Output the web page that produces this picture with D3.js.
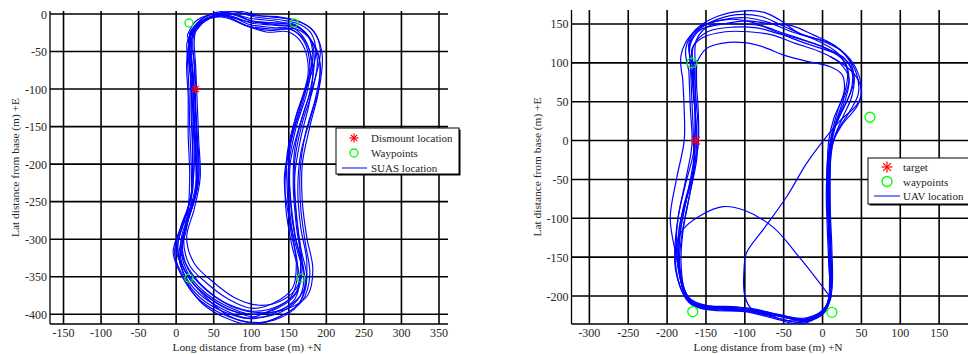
<!DOCTYPE html>
<html><head><meta charset="utf-8">
<script src="https://cdn.jsdelivr.net/npm/d3@7"></script>
<style>
html,body{margin:0;padding:0;background:#fff;}
svg text{font-family:"Liberation Serif","Times New Roman",serif;fill:#262626;}
</style></head>
<body><svg id="c" width="968" height="354"></svg>
<script>
// ---------- LEFT CHART DATA ----------
const leftXTicks = [-150,-100,-50,0,50,100,150,200,250,300,350];
const leftYTicks = [0,-50,-100,-150,-200,-250,-300,-350,-400];
const leftWaypoints = [[17,-12],[157,-12],[17,-352],[166,-352]];
const leftDismount = [[26,-100]];
const leftLegend = ["Dismount location","Waypoints","SUAS location"];
const leftLoops = [
 [[18,-25],[35,-6],[65,2],[100,-6],[135,-10],[160,-16],[178,-32],[188,-60],[182,-100],[168,-145],[158,-195],[158,-245],[163,-295],[168,-338],[160,-372],[135,-392],[100,-400],[65,-388],[35,-368],[14,-342],[6,-305],[16,-268],[26,-228],[25,-180],[23,-130],[22,-82],[18,-45],[18,-25]],
 [[22,-30],[38,-10],[68,-2],[100,-12],[130,-15],[155,-18],[172,-35],[180,-65],[174,-105],[160,-150],[150,-200],[150,-250],[156,-300],[162,-345],[152,-378],[125,-395],[95,-405],[60,-392],[30,-372],[10,-345],[2,-310],[12,-272],[22,-235],[22,-185],[20,-135],[19,-85],[16,-48],[22,-30]],
 [[16,-35],[30,-12],[60,-4],[100,-18],[125,-22],[160,-20],[182,-38],[192,-68],[186,-110],[172,-160],[165,-210],[166,-260],[172,-305],[178,-348],[168,-382],[140,-402],[105,-412],[70,-402],[42,-380],[18,-352],[0,-315],[8,-280],[24,-245],[28,-195],[26,-140],[25,-90],[22,-50],[16,-35]],
 [[24,-22],[45,-4],[75,3],[105,-4],[140,-8],[165,-14],[180,-26],[186,-52],[176,-92],[160,-135],[148,-185],[148,-235],[152,-285],[160,-330],[155,-365],[130,-385],[100,-392],[70,-380],[40,-358],[18,-335],[10,-300],[20,-262],[30,-222],[28,-172],[26,-122],[25,-75],[22,-40],[24,-22]],
 [[20,-28],[36,-8],[66,-1],[98,-14],[128,-18],[152,-20],[170,-36],[178,-70],[170,-112],[156,-158],[146,-208],[146,-258],[154,-308],[164,-350],[158,-380],[132,-398],[98,-406],[62,-396],[32,-378],[12,-352],[4,-318],[14,-280],[26,-240],[27,-190],[24,-140],[22,-95],[18,-55],[20,-28]],
 [[14,-40],[26,-15],[55,-2],[95,-10],[130,-12],[158,-14],[176,-30],[190,-58],[190,-100],[178,-150],[168,-200],[168,-250],[174,-298],[182,-340],[175,-375],[150,-392],[115,-398],[80,-392],[50,-375],[24,-350],[8,-320],[14,-285],[20,-250],[20,-200],[18,-150],[17,-100],[15,-60],[14,-40]],
 [[20,-24],[42,-6],[72,1],[102,-10],[132,-14],[162,-18],[179,-34],[184,-62],[178,-104],[164,-150],[152,-198],[152,-248],[158,-296],[170,-342],[165,-376],[142,-396],[108,-404],[72,-394],[40,-375],[16,-350],[2,-312],[10,-278],[20,-240],[22,-190],[21,-140],[20,-92],[17,-50],[20,-24]],
 [[26,-20],[48,-3],[80,4],[110,-2],[145,-6],[168,-12],[184,-24],[192,-48],[184,-90],[170,-130],[158,-180],[156,-230],[160,-282],[166,-328],[162,-362],[140,-382],[110,-388],[78,-378],[48,-356],[24,-332],[14,-298],[24,-260],[32,-218],[30,-168],[28,-118],[26,-70],[24,-38],[26,-20]],
 [[18,-32],[32,-12],[62,-3],[96,-16],[126,-20],[156,-22],[174,-40],[182,-72],[178,-115],[166,-165],[158,-215],[160,-265],[166,-312],[174,-352],[164,-385],[136,-404],[100,-414],[64,-404],[34,-385],[14,-358],[-2,-320],[6,-284],[18,-250],[24,-205],[23,-155],[21,-105],[18,-60],[18,-32]],
 [[22,-26],[40,-7],[70,0],[100,-9],[132,-12],[160,-16],[176,-30],[182,-58],[172,-98],[158,-142],[150,-192],[152,-242],[158,-292],[166,-336],[160,-370],[138,-388],[104,-396],[68,-386],[38,-366],[16,-340],[8,-306],[18,-268],[28,-230],[26,-182],[24,-132],[23,-84],[20,-46],[22,-26]],
 [[15,-28],[28,-8],[58,0],[90,-14],[120,-24],[150,-24],[168,-40],[176,-75],[166,-120],[152,-170],[144,-220],[150,-270],[162,-318],[172,-355],[162,-388],[130,-408],[95,-410],[58,-398],[28,-378],[8,-350],[-4,-318],[4,-290],[20,-262],[30,-215],[28,-160],[24,-105],[20,-60],[15,-28]],
 [[20,-22],[38,-4],[68,4],[104,-2],[138,-4],[164,-10],[182,-22],[194,-50],[192,-90],[180,-135],[166,-185],[162,-235],[166,-285],[174,-330],[170,-368],[148,-390],[112,-400],[76,-396],[46,-380],[20,-356],[6,-325],[10,-295],[16,-260],[18,-215],[16,-160],[16,-110],[14,-65],[20,-22]]
];

// ---------- RIGHT CHART DATA ----------
const rightXTicks = [-300,-250,-200,-150,-100,-50,0,50,100,150,200];
const rightYTicks = [150,100,50,0,-50,-100,-150,-200];
const rightWaypoints = [[-168,100],[61,30],[-167,-220],[12,-221]];
const rightTarget = [[-163,0]];
const rightLegend = ["target","waypoints","UAV location"];
const rightLoops = [
 [[-168,100],[-172,125],[-160,145],[-130,155],[-100,158],[-70,152],[-40,140],[-10,130],[20,112],[32,90],[28,60],[15,30],[8,0],[6,-50],[8,-100],[10,-150],[10,-195],[0,-220],[-25,-230],[-55,-224],[-100,-216],[-140,-214],[-168,-210],[-180,-190],[-185,-150],[-182,-110],[-172,-60],[-165,-20],[-163,20],[-166,60],[-168,100]],
 [[-165,95],[-168,118],[-155,132],[-125,140],[-95,140],[-65,136],[-35,125],[-5,115],[22,100],[34,80],[30,55],[18,25],[10,-5],[8,-55],[9,-105],[11,-155],[11,-198],[2,-222],[-22,-232],[-50,-226],[-95,-218],[-135,-216],[-165,-212],[-178,-194],[-184,-155],[-180,-115],[-170,-65],[-162,-25],[-160,15],[-163,55],[-165,95]],
 [[-172,90],[-176,118],[-164,142],[-135,160],[-100,167],[-75,165],[-55,155],[-30,138],[0,128],[25,115],[42,95],[50,65],[45,45],[25,20],[10,-10],[5,-60],[6,-110],[8,-160],[9,-200],[-2,-224],[-28,-234],[-60,-228],[-105,-218],[-145,-216],[-172,-208],[-184,-185],[-190,-145],[-186,-100],[-176,-50],[-168,-5],[-170,40],[-172,90]],
 [[-162,100],[-150,118],[-130,125],[-100,126],[-75,120],[-50,110],[-20,102],[10,95],[25,85],[28,65],[20,40],[12,10],[6,-30],[6,-80],[8,-130],[9,-180],[6,-212],[-10,-226],[-35,-230],[-70,-222],[-110,-214],[-150,-212],[-172,-202],[-182,-175],[-186,-130],[-180,-90],[-168,-45],[-160,-5],[-160,40],[-162,70],[-162,100]],
 [[-170,100],[-170,128],[-152,148],[-120,156],[-90,152],[-60,140],[-30,128],[0,118],[25,108],[38,88],[36,62],[22,32],[12,5],[10,-40],[10,-90],[12,-140],[12,-190],[4,-218],[-18,-230],[-45,-228],[-90,-220],[-130,-218],[-162,-214],[-176,-198],[-182,-160],[-180,-120],[-172,-75],[-164,-30],[-162,10],[-166,60],[-170,100]],
 [[-166,92],[-166,122],[-148,140],[-115,146],[-85,145],[-58,138],[-28,130],[2,120],[28,106],[40,86],[38,58],[26,30],[14,0],[9,-45],[8,-95],[10,-145],[10,-192],[1,-221],[-24,-233],[-52,-226],[-98,-218],[-140,-215],[-170,-206],[-182,-180],[-188,-140],[-186,-100],[-176,-55],[-166,-15],[-164,30],[-166,70],[-166,92]],
 [[-180,80],[-182,110],[-170,135],[-145,152],[-110,162],[-80,160],[-52,148],[-22,135],[8,126],[30,110],[44,85],[46,60],[34,36],[18,10],[8,-30],[7,-80],[9,-130],[11,-180],[4,-214],[-20,-228],[-48,-226],[-92,-216],[-138,-214],[-168,-206],[-181,-185],[-188,-150],[-196,-100],[-188,-50],[-178,0],[-178,40],[-180,80]],
 [[-164,105],[-162,130],[-145,148],[-110,150],[-80,148],[-50,138],[-20,128],[5,118],[28,102],[34,78],[26,50],[16,20],[9,-15],[9,-65],[10,-115],[11,-165],[10,-205],[-5,-226],[-30,-236],[-58,-230],[-100,-220],[-145,-218],[-170,-210],[-180,-190],[-186,-150],[-184,-110],[-174,-70],[-166,-35],[-164,5],[-164,60],[-164,105]],
 [[-170,96],[-170,124],[-158,142],[-128,150],[-96,154],[-66,150],[-40,148],[-12,136],[16,122],[36,100],[40,75],[30,48],[16,16],[9,-25],[8,-75],[9,-125],[10,-175],[6,-210],[-12,-228],[-40,-232],[-80,-222],[-125,-215],[-160,-212],[-176,-200],[-184,-170],[-184,-125],[-176,-80],[-166,-40],[-166,0],[-168,50],[-170,96]],
 [[9,-200],[-10,-175],[-30,-150],[-63,-112],[-100,-90],[-128,-85],[-158,-97],[-180,-115],[-190,-145],[-186,-180],[-176,-202],[-160,-214]],
 [[-60,-226],[-90,-218],[-100,-200],[-101,-165],[-98,-145],[-76,-114],[-46,-72],[-21,-30],[1,0],[22,25],[44,46],[50,60],[46,78],[32,94],[10,108]]
];

const svg = d3.select("#c");
const BLUE = "#0000ff", RED = "#ff0000", GREEN = "#00ff00";

function star(g, x, y, r, w) {
  const p = g.append("g").attr("stroke", RED).attr("stroke-width", w);
  const d = r * 0.7071;
  p.append("line").attr("x1", x - r).attr("x2", x + r).attr("y1", y).attr("y2", y);
  p.append("line").attr("x1", x).attr("x2", x).attr("y1", y - r).attr("y2", y + r);
  p.append("line").attr("x1", x - d).attr("x2", x + d).attr("y1", y - d).attr("y2", y + d);
  p.append("line").attr("x1", x - d).attr("x2", x + d).attr("y1", y + d).attr("y2", y - d);
}

function drawChart(cfg) {
  const x = d3.scaleLinear().domain(cfg.xDom).range(cfg.xRange);
  const y = d3.scaleLinear().domain(cfg.yDom).range(cfg.yRange);
  const g = svg.append("g");
  const clipId = "clip" + cfg.id;
  svg.append("clipPath").attr("id", clipId).append("rect")
    .attr("x", cfg.xRange[0]).attr("y", cfg.yRange[1])
    .attr("width", cfg.clipW).attr("height", cfg.yRange[0] - cfg.yRange[1]);
  const xr1 = Math.min(cfg.xRange[1], 968);
  // grid
  const grid = g.append("g").attr("stroke", "#000").attr("stroke-width", 1.6);
  cfg.xTicks.forEach(t => {
    const px = x(t);
    if (px > cfg.xRange[0] && px < xr1)
      grid.append("line").attr("x1", px).attr("x2", px).attr("y1", cfg.yRange[0]).attr("y2", cfg.yRange[1]);
  });
  cfg.yTicks.forEach(t => {
    grid.append("line").attr("x1", cfg.xRange[0]).attr("x2", xr1).attr("y1", y(t)).attr("y2", y(t));
  });
  // axes
  const ax = g.append("g").attr("stroke", "#000").attr("stroke-width", 1.3);
  ax.append("line").attr("x1", cfg.xRange[0]).attr("x2", cfg.xRange[0]).attr("y1", cfg.yRange[0]).attr("y2", cfg.yRange[1]);
  ax.append("line").attr("x1", cfg.xRange[0]).attr("x2", xr1).attr("y1", cfg.yRange[0]).attr("y2", cfg.yRange[0]);
  // tick labels
  cfg.xTicks.forEach(t => {
    const px = x(t);
    if (px > cfg.xRange[0] && px < xr1 - 5)
      g.append("text").attr("x", px).attr("y", cfg.yRange[0] + 13).attr("text-anchor", "middle")
        .attr("font-size", 12).text(t);
  });
  cfg.yTicks.forEach(t => {
    g.append("text").attr("x", cfg.xRange[0] - 3).attr("y", y(t) + 4.5).attr("text-anchor", "end")
      .attr("font-size", 12).text(t);
  });
  g.append("text").attr("x", cfg.xLabelX).attr("y", 351).attr("text-anchor", "middle")
    .attr("font-size", 11.4).text("Long distance from base (m) +N");
  g.append("text").attr("transform", `translate(${cfg.yLabelX},${(cfg.yRange[0] + cfg.yRange[1]) / 2}) rotate(-90)`)
    .attr("text-anchor", "middle").attr("font-size", 11.4).text("Lat distance from base (m) +E");

  // data
  const plot = g.append("g").attr("clip-path", `url(#${clipId})`);
  const line = d3.line().x(d => x(d[0])).y(d => y(d[1])).curve(d3.curveCatmullRom.alpha(0.5));
  plot.selectAll("path.traj").data(cfg.loops).enter().append("path")
    .attr("d", line).attr("fill", "none").attr("stroke", BLUE).attr("stroke-width", cfg.lw);
  plot.selectAll("circle.wp").data(cfg.waypoints).enter().append("circle")
    .attr("cx", d => x(d[0])).attr("cy", d => y(d[1])).attr("r", cfg.wpR)
    .attr("fill", "none").attr("stroke", GREEN).attr("stroke-width", 1.3);
  cfg.targets.forEach(d => star(plot, x(d[0]), y(d[1]), cfg.starR, 1.2));

  // legend
  const L = cfg.legend;
  const lg = g.append("g");
  lg.append("rect").attr("x", L.x + 1.5).attr("y", L.y + 1.5).attr("width", L.w).attr("height", L.h)
    .attr("fill", "#000");
  lg.append("rect").attr("x", L.x).attr("y", L.y).attr("width", L.w).attr("height", L.h)
    .attr("fill", "#fff").attr("stroke", "#000").attr("stroke-width", 1);
  L.labels.forEach((lab, i) => {
    const yy = L.y + L.r0 + i * L.dy;
    lg.append("text").attr("x", L.tx).attr("y", yy + 4).attr("font-size", 11).text(lab);
  });
  star(lg, L.sx, L.y + L.r0, cfg.starR, 1.2);
  lg.append("circle").attr("cx", L.sx).attr("cy", L.y + L.r0 + L.dy).attr("r", cfg.wpR)
    .attr("fill", "none").attr("stroke", GREEN).attr("stroke-width", 1.3);
  lg.append("line").attr("x1", L.lx0).attr("x2", L.lx1).attr("y1", L.y + L.r0 + 2 * L.dy).attr("y2", L.y + L.r0 + 2 * L.dy)
    .attr("stroke", BLUE).attr("stroke-width", 1);
}

drawChart({
  id: "L", xDom: [-168, 362], xRange: [50, 448], yDom: [-413, 4], yRange: [324, 11], clipW: 398,
  xTicks: leftXTicks, yTicks: leftYTicks, loops: leftLoops, waypoints: leftWaypoints, targets: leftDismount,
  lw: 1.15, wpR: 4, starR: 4.5, xLabelX: 247, yLabelX: 19,
  legend: { x: 336, y: 128, w: 123, h: 46, r0: 10, dy: 15, sx: 354, tx: 371, lx0: 342, lx1: 367, labels: leftLegend }
});
drawChart({
  id: "R", xDom: [-323, 200], xRange: [571.5, 978], yDom: [-236, 168], yRange: [324, 10], clipW: 400,
  xTicks: rightXTicks, yTicks: rightYTicks, loops: rightLoops, waypoints: rightWaypoints, targets: rightTarget,
  lw: 1.2, wpR: 5, starR: 5.5, xLabelX: 768, yLabelX: 541,
  legend: { x: 868, y: 158, w: 110, h: 46, r0: 9, dy: 14.5, sx: 887, tx: 903, lx0: 874, lx1: 900, labels: rightLegend }
});
</script></body></html>
